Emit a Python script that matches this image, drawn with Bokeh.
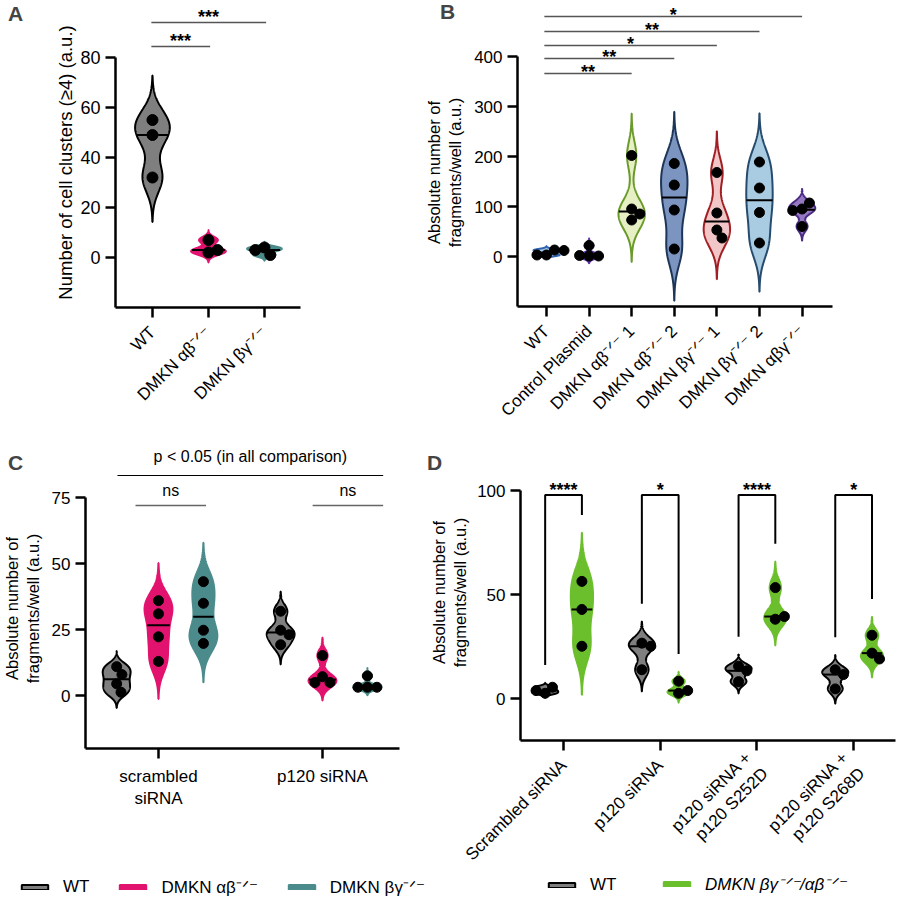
import numpy as np
from bokeh.plotting import figure
from bokeh.layouts import column, row
from bokeh.models import FixedTicker, Legend, LegendItem, Label
from bokeh.embed import file_html
from bokeh.resources import INLINE
from bokeh.core.properties import value

FONT = "Liberation Sans"
SUP = "\u207b\u141f\u207b"  # superscript -/-

# ---------------- data ----------------
# A: cell clusters
a_labels = ["WT", "DMKN αβ" + SUP, "DMKN βγ" + SUP]
a_wt = [55, 49, 32]
a_ab = [7, 2, 3]
a_bg = [4, 1, 3]
a_stars = ["***", "***"]

# B: fragments per well
b_labels = ["WT", "Control Plasmid", "DMKN αβ" + SUP + " 1", "DMKN αβ" + SUP + " 2",
            "DMKN βγ" + SUP + " 1", "DMKN βγ" + SUP + " 2", "DMKN αβγ" + SUP]
b_wt = [3, 13, 3, 12]
b_ctrl = [22, 1, 1, 2]
b_ab1 = [202, 95, 73, 85]
b_ab2 = [186, 143, 93, 15]
b_bg1 = [168, 87, 53, 37]
b_bg2 = [189, 137, 88, 27]
b_abg = [95, 107, 92, 60]
b_stars = ["**", "**", "*", "**", "*"]

# C: siRNA, three genotypes
c_labels = ["scrambled\nsiRNA", "p120 siRNA"]
c_wt = [[11, 8, 4.5, 1.3], [32, 24.8, 23.1, 19.3]]
c_ab = [[36, 31, 22.3, 13], [15.2, 7.2, 5, 5]]
c_bg = [[43.2, 35, 24.8, 19.8], [7.5, 3.2, 3.2, 3.2]]

# D: rescue with phospho-mimetic p120
d_labels = ["Scrambled siRNA", "p120 siRNA", "p120 siRNA +\np120 S252D", "p120 siRNA +\np120 S268D"]
d_wt = [[2.7, 5.6, 4], [26.8, 25.3, 14], [15.7, 13.5, 8.3], [14, 11.7, 4.8]]
d_ko = [[56.5, 43, 25.3], [8.5, 2.7, 4], [53.5, 38.3, 39.6], [30.6, 22, 19.2]]
d_stars = ["****", "*", "****", "*"]

FRAG_TITLE = "Absolute number of\nfragments/well (a.u.)"
GRAY, PINK, TEAL, GREEN = "#7f7f7f", "#e2136e", "#4b8b8b", "#6cbf2c"


# ---------------- helpers ----------------
def kde_violin(vals, center, half_w):
    v = np.asarray(vals, float)
    n = len(v)
    h = 0.62 * v.std(ddof=1) * n ** -0.2
    y = np.linspace(v.min() - 3 * h, v.max() + 3 * h, 300)
    d = np.exp(-0.5 * ((y[:, None] - v[None, :]) / h) ** 2).sum(1)
    w = d / d.max() * half_w
    xs = np.concatenate([center - w, (center + w)[::-1]])
    ys = np.concatenate([y, y[::-1]])
    med = float(np.median(v))
    wm = float(np.interp(med, y, w))
    return xs, ys, (center - wm, center + wm, med), (y[0], y[-1])


def swarm(vals, center, xpx, ypx, diam=9.5):
    placed, out = [], []
    for v in vals:
        yp = v * ypx
        cands = [0.0]
        for px, py in placed:
            dy = abs(yp - py)
            if dy < diam:
                dx = np.sqrt(diam ** 2 - dy ** 2)
                cands += [px + dx, px - dx]
        cands.sort(key=lambda c: (abs(c), -c))
        for c in cands:
            if all((c - px) ** 2 + (yp - py) ** 2 >= diam ** 2 - 1e-6 for px, py in placed):
                break
        placed.append((c, yp))
        out.append(center + c / xpx)
    return out


class Frame:
    """Maps page pixels to data for one panel; the plotting frame fills the whole panel."""

    def __init__(self, ox, oy, W, H, ax, ay, x0, y0, xpx, ypx, right):
        self.ox, self.oy, self.W, self.H = ox, oy, W, H
        self.ax, self.ay, self.x0, self.y0, self.xpx, self.ypx = ax, ay, x0, y0, xpx, ypx
        self.x_end = x0 + (right - ax) / xpx

    def to_data(self, cx, cy):
        return self.x0 + (cx - self.ax) / self.xpx, self.y0 + (self.ay - cy) / self.ypx

    def xr(self):
        return (self.to_data(self.ox, 0)[0], self.to_data(self.ox + self.W, 0)[0])

    def yr(self):
        return (self.to_data(0, self.oy + self.H)[1], self.to_data(0, self.oy)[1])


def make_fig(fr, ytick_size="17px", xtick_size="17px", xstand=12):
    p = figure(frame_width=fr.W, frame_height=fr.H, min_border=0,
               x_range=fr.xr(), y_range=fr.yr(),
               output_backend="svg", toolbar_location=None)
    p.outline_line_color = None
    p.xgrid.visible = False
    p.ygrid.visible = False
    p.background_fill_color = "white"
    p.border_fill_color = "white"
    p.xaxis.fixed_location = fr.y0
    p.yaxis.fixed_location = fr.x0
    p.xaxis.bounds = (fr.x0, fr.x_end)
    for ax in (p.xaxis, p.yaxis):
        ax.axis_line_width = 2.5
        ax.axis_line_color = "black"
        ax.major_tick_line_width = 2.5
        ax.major_tick_line_color = "black"
        ax.major_tick_out = 10
        ax.major_tick_in = 0
        ax.minor_tick_line_color = None
        ax.major_label_text_font = FONT
        ax.major_label_text_color = "black"
    p.yaxis.major_label_text_font_size = ytick_size
    p.yaxis.major_label_standoff = 5
    p.xaxis.major_label_text_font_size = xtick_size
    p.xaxis.major_label_standoff = xstand
    return p


def set_axes(p, xticks, xlabels, yticks, ybounds, orient=None):
    p.xaxis.ticker = FixedTicker(ticks=xticks)
    p.xaxis.major_label_overrides = {t: l for t, l in zip(xticks, xlabels)}
    if orient is not None:
        p.xaxis.major_label_orientation = orient
    p.yaxis.ticker = FixedTicker(ticks=yticks)
    p.yaxis.bounds = ybounds


def y_title(p, fr, text, cx, cy, size="16.5px"):
    x, y = fr.to_data(cx, cy)
    p.add_layout(Label(x=x, y=y, text=text, angle=90, angle_units="deg", text_font=FONT,
                       text_font_size=size, text_align="center", text_baseline="middle",
                       text_color="black"))


def draw_violin(p, vals, center, half_w, fill, line, fr, size=10, lw=2):
    xs, ys, (m0, m1, med), ext = kde_violin(vals, center, half_w)
    r = p.patch(xs, ys, fill_color=fill, line_color=line, line_width=lw)
    p.segment(x0=[m0], y0=[med], x1=[m1], y1=[med], line_color="black", line_width=2)
    px = swarm(vals, center, fr.xpx, fr.ypx)
    p.scatter(px, vals, size=size, color="black")
    return r, ext


def letter(p, fr, text, cx, cy):
    x, y = fr.to_data(cx, cy)
    p.add_layout(Label(x=x, y=y, text=text, text_font=FONT, text_font_size="21px",
                       text_font_style="bold", text_align="center", text_baseline="middle"))


def stars(p, xs, ys, texts, size="18px"):
    p.text(x=xs, y=ys, text=texts, text_font=value(FONT), text_font_size=size,
           text_font_style="bold", text_align="center", text_baseline="middle", text_color="black")


def legend(p, fr, items, cx, cy_bottom, italic=False, spacing=27):
    leg = Legend(items=items, location=(cx - fr.ox, fr.oy + fr.H - cy_bottom),
                 orientation="horizontal", glyph_width=33, glyph_height=6,
                 label_text_font=FONT, label_text_font_size="17px", label_text_color="black",
                 label_text_font_style="italic" if italic else "normal",
                 spacing=spacing, padding=0, margin=0, label_standoff=12,
                 border_line_color=None, background_fill_alpha=0)
    p.add_layout(leg)


# ---------------- panel A ----------------
frA = Frame(0, 0, 400, 445, 115, 307, -0.66, -20, 56, 2.5, right=300)
pA = make_fig(frA, ytick_size="18px", xtick_size="17px", xstand=12)
set_axes(pA, [0, 1, 2], a_labels, [0, 20, 40, 60, 80], (-20, 80), np.pi / 4)
y_title(pA, frA, "Number of cell clusters (\u22654) (a.u.)", 65, 162, size="18.5px")
for i, (vals, fill, line) in enumerate([(a_wt, GRAY, "black"), (a_ab, PINK, PINK), (a_bg, TEAL, TEAL)]):
    draw_violin(pA, vals, i, 0.31, fill, line, frA, size=11)
a_sig = [(0, 2, 94.0), (0, 1, 84.4)]
pA.segment(x0=[s[0] - 0.02 for s in a_sig], y0=[s[2] for s in a_sig],
           x1=[s[1] + 0.03 for s in a_sig], y1=[s[2] for s in a_sig], line_color="#555555", line_width=1.5)
stars(pA, [(s[0] + s[1]) / 2 for s in a_sig], [s[2] + 2.2 for s in a_sig], a_stars)
letter(pA, frA, "A", 15, 13)

# ---------------- panel B ----------------
frB = Frame(400, 0, 497, 445, 517, 306, -0.68, -100, 42.6, 0.5, right=832)
pB = make_fig(frB, xstand=12)
set_axes(pB, list(range(7)), b_labels, [0, 100, 200, 300, 400], (-100, 400), np.pi / 4)
y_title(pB, frB, FRAG_TITLE, 444, 172)
b_fill = ["#a7c7e7", "#8b6fc2", "#e6f0c4", "#7b94c0", "#f2c6c6", "#a9cce2", "#9479c2"]
b_line = ["#2f64b0", "#5a2ea0", "#6a9a2a", "#1d3557", "#a01f25", "#274b6d", "#4a2a82"]
for i, vals in enumerate([b_wt, b_ctrl, b_ab1, b_ab2, b_bg1, b_bg2, b_abg]):
    draw_violin(pB, vals, i, 0.31, b_fill[i], b_line[i], frB)
b_sig = [(0, 2, 366), (0, 3, 396), (0, 4, 422), (0, 5, 450), (0, 6, 480)]
pB.segment(x0=[s[0] - 0.05 for s in b_sig], y0=[s[2] for s in b_sig],
           x1=[s[1] for s in b_sig], y1=[s[2] for s in b_sig], line_color="#555555", line_width=1.5)
stars(pB, [(s[0] - 0.05 + s[1]) / 2 for s in b_sig], [s[2] + 4 for s in b_sig], b_stars)
letter(pB, frB, "B", 447, 11)

# ---------------- panel C ----------------
frC = Frame(0, 445, 425, 455, 85, 748, -0.445, -20, 164, 2.64, right=399)
pC = make_fig(frC, xstand=8)
set_axes(pC, [0, 1], c_labels, [0, 25, 50, 75], (-20, 75))
y_title(pC, frC, FRAG_TITLE, 22, 608)
c_off = [-0.255, 0.0, 0.274]
c_cols = [(GRAY, "black"), (PINK, PINK), (TEAL, TEAL)]
c_rend = []
for g in range(2):
    for k, series in enumerate([c_wt, c_ab, c_bg]):
        r, _ = draw_violin(pC, series[g], g + c_off[k], 0.085, c_cols[k][0], c_cols[k][1], frC)
        if g == 0:
            c_rend.append(r)
pC.segment(x0=[-0.25], y0=[83.4], x1=[1.37], y1=[83.4], line_color="black", line_width=1.2)
pC.text(x=[0.56], y=[90.6], text=["p < 0.05 (in all comparison)"], text_font=value(FONT),
        text_font_size="16px", text_align="center", text_baseline="middle")
c_ns = [(-0.14, 0.29), (0.94, 1.37)]
pC.segment(x0=[s[0] for s in c_ns], y0=[72, 72], x1=[s[1] for s in c_ns], y1=[72, 72],
           line_color="#666666", line_width=1.5)
pC.text(x=[(s[0] + s[1]) / 2 for s in c_ns], y=[77.7, 77.7], text=["ns", "ns"], text_font=value(FONT),
        text_font_size="16px", text_align="center", text_baseline="middle")
legend(pC, frC, [LegendItem(label="WT", renderers=[c_rend[0]]),
                 LegendItem(label="DMKN αβ" + SUP, renderers=[c_rend[1]]),
                 LegendItem(label="DMKN βγ" + SUP, renderers=[c_rend[2]])], 18, 898)
letter(pC, frC, "C", 15, 462)

# ---------------- panel D ----------------
frD = Frame(425, 445, 472, 455, 520, 740, -0.445, -20, 96.7, 2.08, right=895)
pD = make_fig(frD, xstand=12)
set_axes(pD, [0, 1, 2, 3], d_labels, [0, 50, 100], (-20, 100), np.pi / 4)
y_title(pD, frD, FRAG_TITLE, 449, 592)
d_rend = []
bx0, bx1, bl, br = [], [], [], []
for g in range(4):
    r1, e1 = draw_violin(pD, d_wt[g], g - 0.19, 0.135, GRAY, "black", frD)
    r2, e2 = draw_violin(pD, d_ko[g], g + 0.19, 0.115, GREEN, GREEN, frD)
    if g == 0:
        d_rend = [r1, r2]
    bx0.append(g - 0.19)
    bx1.append(g + 0.19)
    bl.append(e1[1] + 8.5)
    br.append(e2[1] + 8.5)
top = 98
pD.multi_line(xs=[[a, a, b, b] for a, b in zip(bx0, bx1)],
              ys=[[l, top, top, r] for l, r in zip(bl, br)], line_color="black", line_width=2)
stars(pD, [g for g in range(4)], [top + 2.6] * 4, d_stars)
legend(pD, frD, [LegendItem(label="WT", renderers=[d_rend[0]])], 545, 895)
legend(pD, frD, [LegendItem(label="DMKN βγ" + SUP + "/αβ" + SUP, renderers=[d_rend[1]])], 660, 895,
       italic=True)
letter(pD, frD, "D", 434, 462)

layout = column(row(pA, pB), row(pC, pD))
open("out.html", "w").write(file_html(layout, INLINE))
